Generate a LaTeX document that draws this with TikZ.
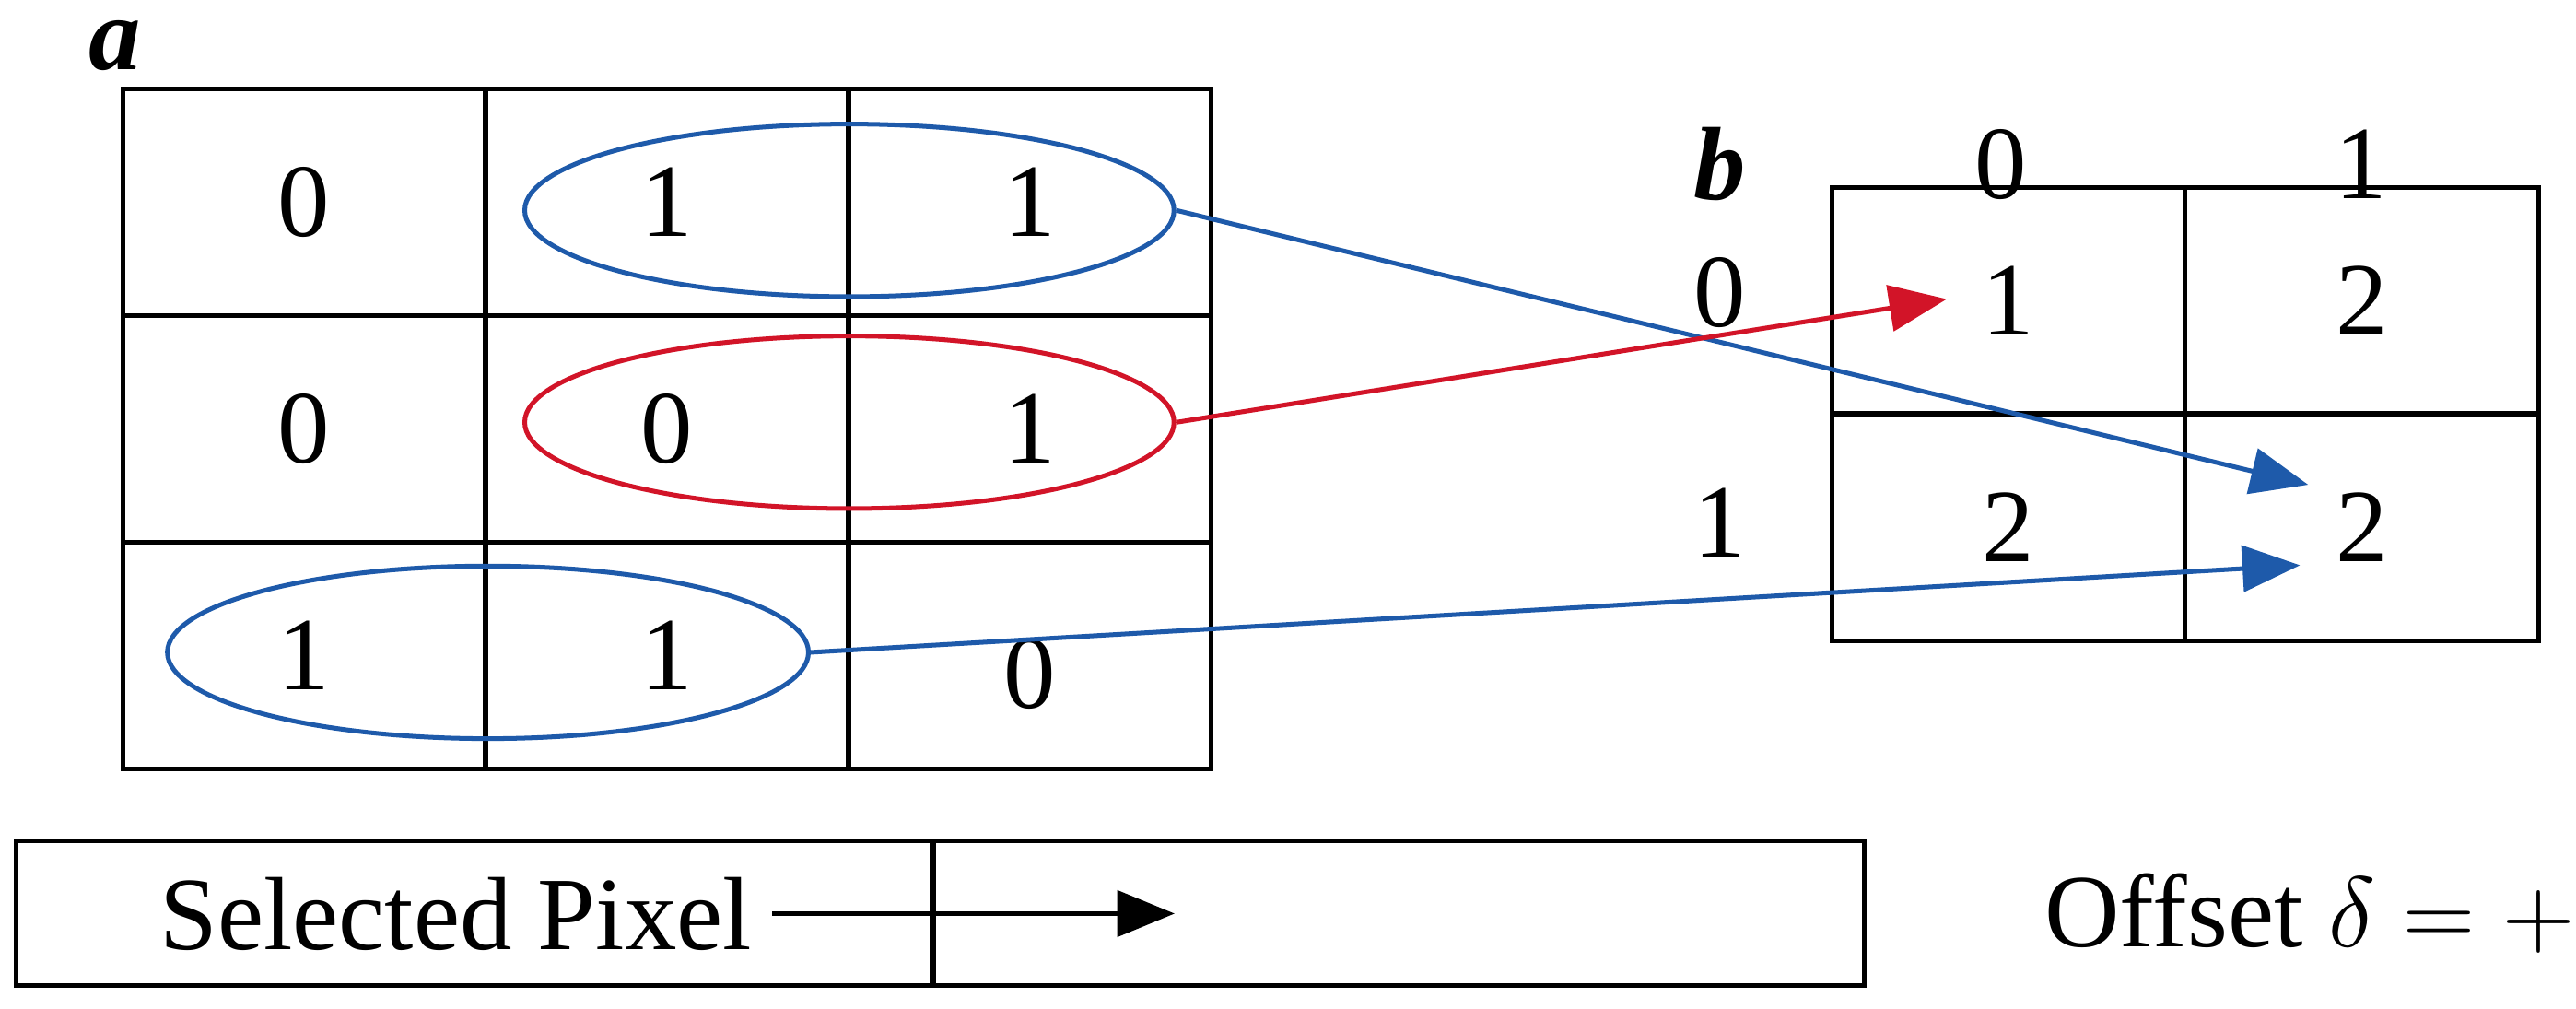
\documentclass[tikz,border=0pt]{standalone}
\usepackage{fontspec}
\setmainfont{Liberation Serif}
\usetikzlibrary{arrows.meta,shapes.geometric}
\begin{document}
\begin{tikzpicture}[x=0.01cm,y=-0.01cm]
        %======definicao dos estilos==========%

            \tikzstyle{cell}=[rectangle,draw,thick,minimum width=2.2cm,minimum height=1.375cm,font=\fontsize{18}{22}\selectfont]
            \tikzstyle{cellb}=[rectangle,draw,thick,minimum width=2.15cm,minimum height=1.375cm,font=\fontsize{18}{22}\selectfont]
            \tikzstyle{lbl}=[font=\fontsize{18}{22}\selectfont]
            \tikzstyle{ring}=[ellipse,draw,thick,minimum width=3.95cm,minimum height=1.05cm]
            \tikzstyle{link}=[-{Triangle[length=0.35cm,width=0.28cm]},thick]

        %====================%%=============%

            \useasboundingbox (0,0) rectangle (1568,614);

            % grade a
            \node[cell](A1) at (185,123) {0};
            \node[cell](A2) at (406,123) {1};
            \node[cell](A3) at (627,123) {1};
            \node[cell](B1) at (185,261) {0};
            \node[cell](B2) at (406,261) {0};
            \node[cell](B3) at (627,261) {1};
            \node[cell](C1) at (185,399) {1};
            \node[cell](C2) at (406,399) {1};
            \node[cell](C3) at (627,399) {};
            \node[lbl] at (627,410) {0};

            % grade b
            \node[cellb](P1) at (1222.5,183) {1};
            \node[cellb](P2) at (1437.5,183) {2};
            \node[cellb](Q1) at (1222.5,321) {2};
            \node[cellb](Q2) at (1437.5,321) {2};

            \node[lbl] at (1218,100) {0};
            \node[lbl] at (1437,100) {1};
            \node[lbl] at (1047,178) {0};
            \node[lbl] at (1047,318) {1};
            \node[lbl,font=\fontsize{18}{22}\selectfont\bfseries\itshape] at (70,28) {a};
            \node[lbl,font=\fontsize{18}{22}\selectfont\bfseries\itshape] at (1047,100) {b};

            % elipses
            \node[ring,draw={rgb,255:red,30;green,90;blue,170}](E1) at (517,128) {};
            \node[ring,draw={rgb,255:red,210;green,20;blue,40}](E2) at (517,257) {};
            \node[ring,draw={rgb,255:red,30;green,90;blue,170},minimum width=3.9cm](E3) at (297,397) {};

            \coordinate (T1) at (1405,295);
            \coordinate (T2) at (1185,182);
            \coordinate (T3) at (1400,344);
            \draw[link,draw={rgb,255:red,30;green,90;blue,170},fill={rgb,255:red,30;green,90;blue,170}](E1.east) -- (T1);
            \draw[link,draw={rgb,255:red,210;green,20;blue,40},fill={rgb,255:red,210;green,20;blue,40}](E2.east) -- (T2);
            \draw[link,draw={rgb,255:red,30;green,90;blue,170},fill={rgb,255:red,30;green,90;blue,170}](E3.east) -- (T3);

            % legenda
            \node[rectangle,draw,thick,minimum width=5.58cm,minimum height=0.88cm](L1) at (289,556) {};
            \node[rectangle,draw,thick,minimum width=5.67cm,minimum height=0.88cm](L2) at (851,556) {};
            \node[lbl,anchor=east](S) at (470,556) {Selected Pixel};
            \coordinate (S2) at (715,556);
            \draw[link,fill=black](S) -- (S2);
            \node[lbl] at (1420,556) {Offset $\delta=+1$};
        \end{tikzpicture}
\end{document}
